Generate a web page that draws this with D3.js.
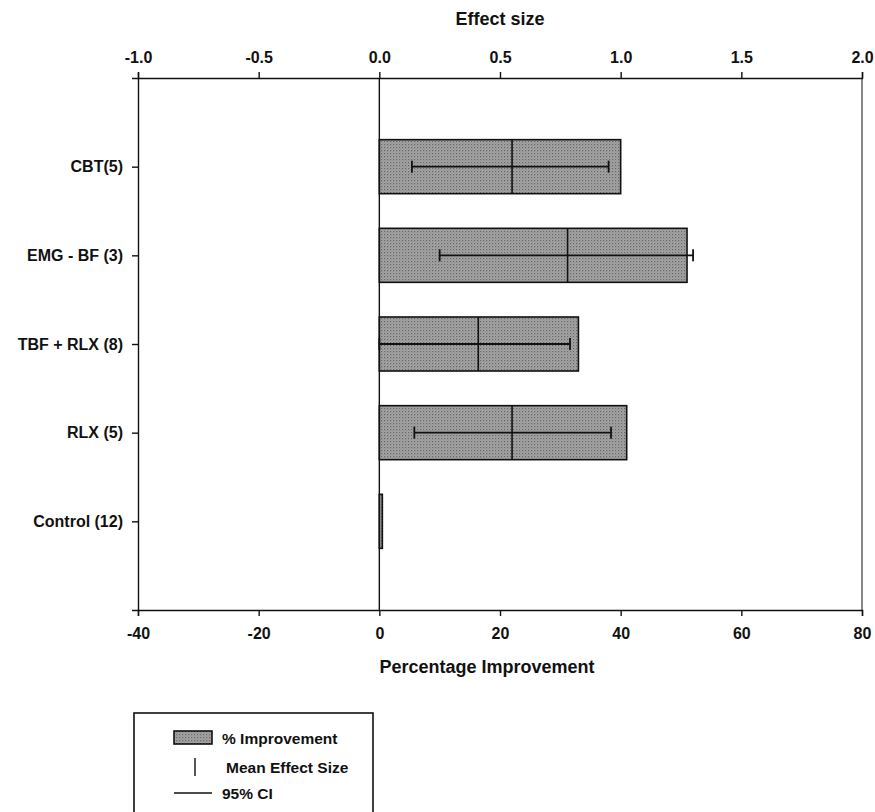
<!DOCTYPE html>
<html>
<head>
<meta charset="utf-8">
<script src="https://cdn.jsdelivr.net/npm/d3@7"></script>
<style>
  body { margin: 0; background: #fff; }
  svg { display: block; }
  text { font-family: "Liberation Sans", Arial, Helvetica, sans-serif; font-weight: bold; fill: #111; }
</style>
</head>
<body>
<svg width="875" height="812"></svg>
<script>
const categories = ['CBT(5)', 'EMG - BF (3)', 'TBF + RLX (8)', 'RLX (5)', 'Control (12)'];
const pctImprovement = [40, 51, 33, 41, 0.5];
const meanEffect = [0.55, 0.78, 0.41, 0.55, null];
const ciLow = [0.135, 0.25, 0.0, 0.145, null];
const ciHigh = [0.95, 1.3, 0.79, 0.96, null];
const pctTicks = [-40, -20, 0, 20, 40, 60, 80];
const effectTicks = [-1, -0.5, 0, 0.5, 1, 1.5, 2];
const legendItems = ['% Improvement', 'Mean Effect Size', '95% CI'];

const data = categories.map((c, i) => ({
  label: c,
  pct: pctImprovement[i],
  mean: meanEffect[i],
  lo: ciLow[i],
  hi: ciHigh[i],
}));

const svg = d3.select('svg');
const margin = { top: 78, right: 13, bottom: 202, left: 138 };
const width = +svg.attr('width') - margin.left - margin.right;
const height = +svg.attr('height') - margin.top - margin.bottom;

// plain hyphen for negatives, as in the print
const hy = (f) => (d) => f(d).replace('\u2212', '-');

// stippled grey fill like the print
const defs = svg.append('defs');
const pat = defs.append('pattern')
  .attr('id', 'stipple')
  .attr('width', 3).attr('height', 3)
  .attr('patternUnits', 'userSpaceOnUse');
pat.append('rect').attr('width', 3).attr('height', 3).attr('fill', '#a3a3a3');
pat.append('rect').attr('width', 1.2).attr('height', 1.2).attr('fill', '#676767');
pat.append('rect').attr('x', 1.5).attr('y', 1.5).attr('width', 1).attr('height', 1).attr('fill', '#878787');

const x = d3.scaleLinear().domain([-40, 80]).range([0, width]);
const xe = d3.scaleLinear().domain([-1, 2]).range([0, width]);
const y = d3.scalePoint().domain(categories).range([0, height]).padding(1);
const barH = 54;

const g = svg.append('g').attr('transform', `translate(${margin.left},${margin.top})`);

// bottom axis
g.append('g')
  .attr('transform', `translate(0,${height})`)
  .call(d3.axisBottom(x).tickValues(pctTicks).tickSize(6).tickPadding(12).tickFormat(hy(d3.format('d'))))
  .call((a) => a.selectAll('text').style('font-size', '16px'));

// top axis
g.append('g')
  .call(d3.axisTop(xe).tickValues(effectTicks).tickSize(6).tickPadding(9).tickFormat(hy(d3.format('.1f'))))
  .call((a) => a.selectAll('text').style('font-size', '16px'));

// left axis
g.append('g')
  .call(d3.axisLeft(y).tickSize(6).tickPadding(9))
  .call((a) => a.selectAll('text').style('font-size', '16px'));

// right frame
g.append('line')
  .attr('x1', width).attr('x2', width)
  .attr('y1', 0).attr('y2', height)
  .attr('stroke', '#111');

g.selectAll('.domain, .tick line').attr('stroke', '#111').attr('stroke-width', 1.4);

// bars
g.selectAll('.bar')
  .data(data)
  .enter()
  .append('rect')
  .attr('x', x(0))
  .attr('y', (d) => y(d.label) - barH / 2)
  .attr('width', (d) => x(d.pct) - x(0))
  .attr('height', barH)
  .attr('fill', 'url(#stipple)')
  .attr('stroke', '#111')
  .attr('stroke-width', 1.6);

// zero line
g.append('line')
  .attr('x1', x(0)).attr('x2', x(0))
  .attr('y1', 0).attr('y2', height)
  .attr('stroke', '#111').attr('stroke-width', 1.4);

const withCI = data.filter((d) => d.mean != null);

// 95% CI
g.selectAll('.ci')
  .data(withCI)
  .enter()
  .append('line')
  .attr('x1', (d) => xe(d.lo))
  .attr('x2', (d) => xe(d.hi))
  .attr('y1', (d) => y(d.label))
  .attr('y2', (d) => y(d.label))
  .attr('stroke', '#111').attr('stroke-width', 1.8);

g.selectAll('.capL')
  .data(withCI)
  .enter()
  .append('line')
  .attr('x1', (d) => xe(d.lo)).attr('x2', (d) => xe(d.lo))
  .attr('y1', (d) => y(d.label) - 6).attr('y2', (d) => y(d.label) + 6)
  .attr('stroke', '#111').attr('stroke-width', 1.8);

g.selectAll('.capR')
  .data(withCI)
  .enter()
  .append('line')
  .attr('x1', (d) => xe(d.hi)).attr('x2', (d) => xe(d.hi))
  .attr('y1', (d) => y(d.label) - 6).attr('y2', (d) => y(d.label) + 6)
  .attr('stroke', '#111').attr('stroke-width', 1.8);

// mean effect size
g.selectAll('.mean')
  .data(withCI)
  .enter()
  .append('line')
  .attr('x1', (d) => xe(d.mean)).attr('x2', (d) => xe(d.mean))
  .attr('y1', (d) => y(d.label) - barH / 2).attr('y2', (d) => y(d.label) + barH / 2)
  .attr('stroke', '#111').attr('stroke-width', 1.6);

// axis titles
svg.append('text')
  .attr('x', margin.left + width / 2)
  .attr('y', 25)
  .attr('text-anchor', 'middle')
  .style('font-size', '18px')
  .text('Effect size');

svg.append('text')
  .attr('x', 487)
  .attr('y', 673)
  .attr('text-anchor', 'middle')
  .style('font-size', '18px')
  .text('Percentage Improvement');

// legend
const lg = svg.append('g').attr('transform', 'translate(134,713)');
lg.append('rect')
  .attr('width', 239).attr('height', 120)
  .attr('fill', 'none').attr('stroke', '#111').attr('stroke-width', 1.6);

lg.append('rect')
  .attr('x', 40).attr('y', 18).attr('width', 38).attr('height', 13)
  .attr('fill', 'url(#stipple)').attr('stroke', '#111').attr('stroke-width', 1.6);
lg.append('line')
  .attr('x1', 61).attr('x2', 61).attr('y1', 45).attr('y2', 63)
  .attr('stroke', '#111').attr('stroke-width', 1.4);
lg.append('line')
  .attr('x1', 40).attr('x2', 78).attr('y1', 80).attr('y2', 80)
  .attr('stroke', '#111').attr('stroke-width', 1.4);

lg.selectAll('.ltxt')
  .data(legendItems)
  .enter()
  .append('text')
  .attr('x', (d, i) => (i === 1 ? 92 : 88))
  .attr('y', (d, i) => [31, 60, 86][i])
  .style('font-size', '15.5px')
  .text((d) => d);
</script>
</body>
</html>
